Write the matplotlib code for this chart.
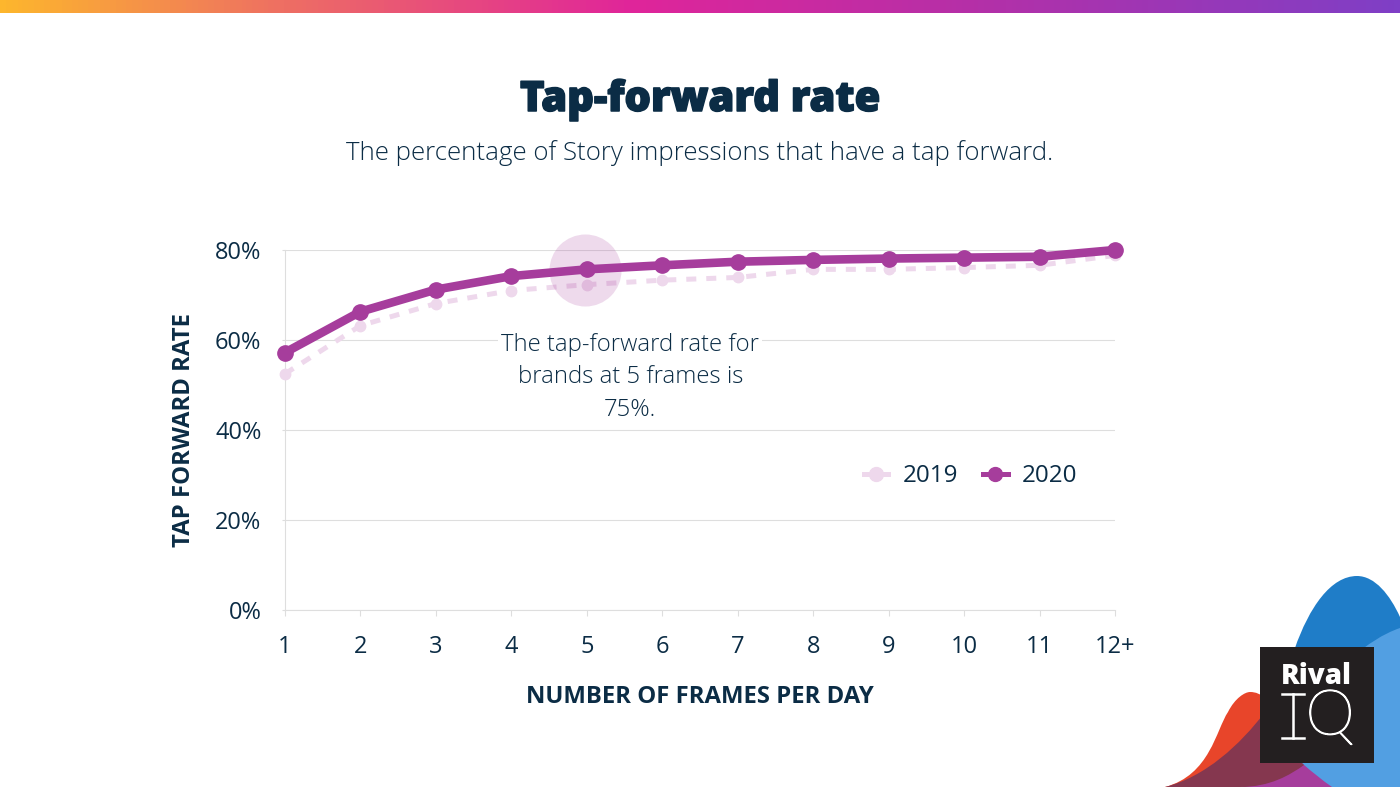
import matplotlib
matplotlib.use('Agg')
import matplotlib.pyplot as plt
import matplotlib.patheffects as pe
import numpy as np
from matplotlib.colors import LinearSegmentedColormap
from matplotlib.lines import Line2D
from matplotlib.patches import PathPatch, Rectangle
from matplotlib.path import Path

plt.rcParams['font.family'] = ['Open Sans', 'DejaVu Sans']

frames = ['1', '2', '3', '4', '5', '6', '7', '8', '9', '10', '11', '12+']
rate_2019 = [52.5, 63.2, 68.1, 71.0, 72.3, 73.3, 73.9, 75.7, 75.7, 76.1, 76.6, 78.8]
rate_2020 = [57.2, 66.3, 71.2, 74.2, 75.7, 76.6, 77.4, 77.8, 78.1, 78.3, 78.5, 80.0]
y_ticks = [0, 20, 40, 60, 80]

TEXT = '#0b2c45'
PURPLE = '#a63d9c'
LIGHT = '#eed8ec'
GRID = '#dedede'
W, H = 1400, 787

fig = plt.figure(figsize=(14, 7.87), dpi=100)

# full-figure layer in pixel coords for the banner, titles and logo
bg = fig.add_axes([0, 0, 1, 1], zorder=3)
bg.patch.set_alpha(0)

bar = LinearSegmentedColormap.from_list('bar', [
    (0, '#fdb62d'), (0.2, '#ee6f63'), (0.45, '#e0259a'), (0.7, '#b430a8'), (1, '#7f3fc6')])
bg.imshow(np.linspace(0, 1, 700).reshape(1, -1), cmap=bar, aspect='auto',
          extent=[0, W, 13, 0], zorder=1)
bg.set_xlim(0, W)
bg.set_ylim(H, 0)
bg.axis('off')

# no black weight available, so thicken the extra bold with a stroke
bg.text(700, 100, 'Tap-forward rate', fontsize=30, fontweight=800, color=TEXT,
        ha='center', va='center',
        path_effects=[pe.withStroke(linewidth=1.1, foreground=TEXT)])
bg.text(700, 153, 'The percentage of Story impressions that have a tap forward.',
        fontsize=18.65, fontweight='light', color=TEXT, ha='center', va='center')


def blob(verts, color, z):
    codes = [Path.MOVETO] + [Path.CURVE4] * (len(verts) - 2) + [Path.CLOSEPOLY]
    bg.add_patch(PathPatch(Path(verts, codes), fc=color, ec='none', zorder=z))


# decorative shapes behind the logo
blob([(1275, 787), (1270, 700), (1305, 576), (1357, 576),
      (1375, 576), (1390, 595), (1400, 617),
      (1400, 680), (1400, 720), (1400, 787),
      (1360, 787), (1320, 787), (1275, 787), (1275, 787)], '#1f7dc8', 2)
blob([(1330, 787), (1300, 770), (1262, 730), (1300, 700),
      (1340, 670), (1365, 640), (1400, 628),
      (1400, 680), (1400, 740), (1400, 787),
      (1380, 787), (1350, 787), (1330, 787), (1330, 787)], '#529fe2', 3)
blob([(1240, 787), (1270, 780), (1290, 772), (1303, 764),
      (1312, 772), (1322, 780), (1332, 787),
      (1310, 787), (1270, 787), (1240, 787), (1240, 787)], '#a63d9c', 4)
blob([(1165, 787), (1210, 775), (1216, 730), (1228, 712),
      (1235, 698), (1245, 692), (1250, 692),
      (1262, 692), (1268, 700), (1280, 720),
      (1280, 760), (1240, 787), (1165, 787), (1165, 787)], '#e8452a', 4)
blob([(1165, 787), (1205, 777), (1240, 745), (1265, 712),
      (1275, 725), (1290, 750), (1304, 765),
      (1290, 775), (1270, 787), (1240, 787),
      (1220, 787), (1190, 787), (1165, 787), (1165, 787)], '#85374f', 5)

bg.add_patch(Rectangle((1260, 647), 114, 116, fc='#231f20', ec='none', zorder=6))
bg.text(1316.5, 676, 'Rival', fontsize=20, fontweight=800, color='white',
        ha='center', va='center', zorder=7)
bg.text(1330, 717, 'Q', fontsize=45, fontweight='light', family='Lato', color='white',
        ha='center', va='center', zorder=7,
        path_effects=[pe.withStroke(linewidth=1, foreground='white')])
bg.plot([1293, 1293], [694, 738], color='white', lw=1.8, zorder=7)
bg.plot([1282, 1304], [694, 694], color='white', lw=1.8, zorder=7)
bg.plot([1282, 1304], [738, 738], color='white', lw=1.8, zorder=7)

# chart
ax = fig.add_axes([285 / W, 1 - 610 / H, 830 / W, 360 / H], zorder=2)
x = np.arange(len(frames))

ax.plot(x, rate_2019, color=LIGHT, lw=3.6, dashes=(2, 2), marker='o', ms=7.5,
        mec=LIGHT, mfc=LIGHT, zorder=3, clip_on=False)
ax.scatter([x[4] - 0.03], [rate_2020[4] - 0.2], s=2690, color=PURPLE, alpha=0.19, lw=0,
           zorder=4, clip_on=False)
ax.plot(x, rate_2020, color=PURPLE, lw=6.2, marker='o', ms=11, mec=PURPLE, mfc=PURPLE,
        zorder=5, clip_on=False)

ax.set_xlim(0, len(frames) - 1)
ax.set_ylim(0, 80)
ax.set_xticks(x)
ax.set_xticklabels(frames)
ax.set_yticks(y_ticks)
ax.set_yticklabels([f'{v}%' for v in y_ticks])
ax.grid(axis='y', color=GRID, lw=0.8)
ax.set_axisbelow(True)
ax.tick_params(axis='x', length=4, color=GRID, width=0.8, labelsize=17, labelcolor=TEXT, pad=14)
ax.tick_params(axis='y', length=2, color=GRID, width=0.8, labelsize=17, labelcolor=TEXT, pad=15)
for side in ['top', 'right']:
    ax.spines[side].set_visible(False)
for side in ['left', 'bottom']:
    ax.spines[side].set_color(GRID)
    ax.spines[side].set_linewidth(0.8)

ax.set_xlabel('NUMBER OF FRAMES PER DAY', fontsize=17.2, fontweight='bold', color=TEXT, labelpad=18.5)
ax.set_ylabel('TAP FORWARD RATE', fontsize=17.2, fontweight='bold', color=TEXT, labelpad=13.5)

ax.text(0.416, 0.769, 'The tap-forward rate for\nbrands at 5 frames is\n75%.',
        transform=ax.transAxes, fontsize=17.2, fontweight='light', color=TEXT, ha='center', va='top',
        linespacing=1.46, zorder=6, bbox=dict(fc='white', ec='none', pad=2))

legend_handles = [
    Line2D([], [], color=LIGHT, lw=3.6, marker='o', ms=10, mec=LIGHT, mfc=LIGHT),
    Line2D([], [], color=PURPLE, lw=3.6, marker='o', ms=10, mec=PURPLE, mfc=PURPLE),
]
ax.legend(legend_handles, ['2019', '2020'], loc='center', bbox_to_anchor=(0.826, 0.371), ncol=2,
          frameon=False, fontsize=17.4, labelcolor=TEXT, handlelength=1.02, handletextpad=0.58,
          columnspacing=1.04, borderpad=0)

fig.savefig('out.png', dpi=100)
